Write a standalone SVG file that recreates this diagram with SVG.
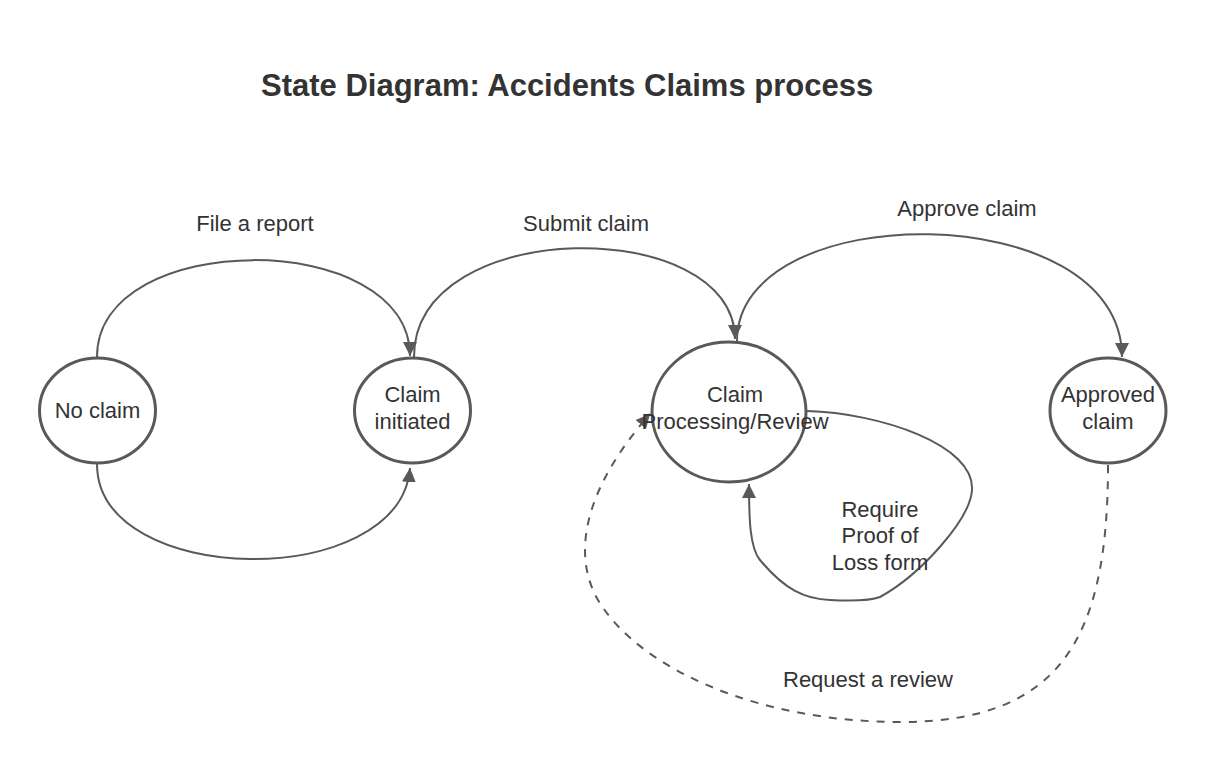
<svg xmlns="http://www.w3.org/2000/svg" width="1206" height="762" viewBox="0 0 1206 762">
<style>
.node{fill:#fff;stroke:#595959;stroke-width:3}
.edge{fill:none;stroke:#595959;stroke-width:2}
.dash{stroke-dasharray:8,8}
text{font-family:"Liberation Sans",Arial,sans-serif;font-size:22px;fill:#333;text-anchor:middle}
.title{font-size:31px;font-weight:bold;text-anchor:start}
</style>
<defs>
<marker id="arr" markerWidth="16" markerHeight="14" refX="14" refY="7" orient="auto" markerUnits="userSpaceOnUse">
<path d="M0,0 L14,7 L0,14 Z" fill="#595959"/>
</marker>
</defs>
<rect width="1206" height="762" fill="#fff"/>
<text class="title" x="261" y="96">State Diagram: Accidents Claims process</text>
<g id="connectors">
<path class="edge" d="M97,357 C97,228 410,228 410,356" marker-end="url(#arr)"/>
<path class="edge" d="M97,464 C97,588 400,592 410,468" marker-end="url(#arr)"/>
<path class="edge" d="M414,357 C414,215 735,215 735,339" marker-end="url(#arr)"/>
<path class="edge" d="M737,341 C737,196 1122,196 1122,357" marker-end="url(#arr)"/>
<path class="edge" d="M807,411 C880,413 975,445 972,490 C970,520 920,575 880,597 C870,601 850,601 830,600 C805,599 785,590 760,560 C750,548 749,520 749,484" marker-end="url(#arr)"/>
<path class="edge dash" d="M1108,465 C1108,640 1060,722 900,722 C760,722 640,670 598,600 C572,555 583,490 650,414" marker-end="url(#arr)"/>
<text x="255" y="231">File a report</text>
<text x="586" y="231">Submit claim</text>
<text x="967" y="216">Approve claim</text>
<text x="868" y="687">Request a review</text>
<text x="880" y="517">Require</text>
<text x="880" y="543">Proof of</text>
<text x="880" y="570">Loss form</text>
</g>
<g id="no-claim">
<ellipse class="node" cx="97.5" cy="410.5" rx="58" ry="52.5"/>
<text x="97.5" y="418">No claim</text>
</g>
<g id="claim-initiated">
<ellipse class="node" cx="412.5" cy="410.5" rx="58" ry="52.5"/>
<text x="412.5" y="402">Claim</text>
<text x="412.5" y="429">initiated</text>
</g>
<g id="claim-processing">
<ellipse class="node" cx="729" cy="412" rx="77" ry="70" fill-opacity="0"/>
<text x="735" y="402">Claim</text>
<text x="735" y="429">Processing/Review</text>
</g>
<g id="approved-claim">
<ellipse class="node" cx="1108" cy="410.5" rx="58" ry="52.5"/>
<text x="1108" y="402">Approved</text>
<text x="1108" y="429">claim</text>
</g>
</svg>
